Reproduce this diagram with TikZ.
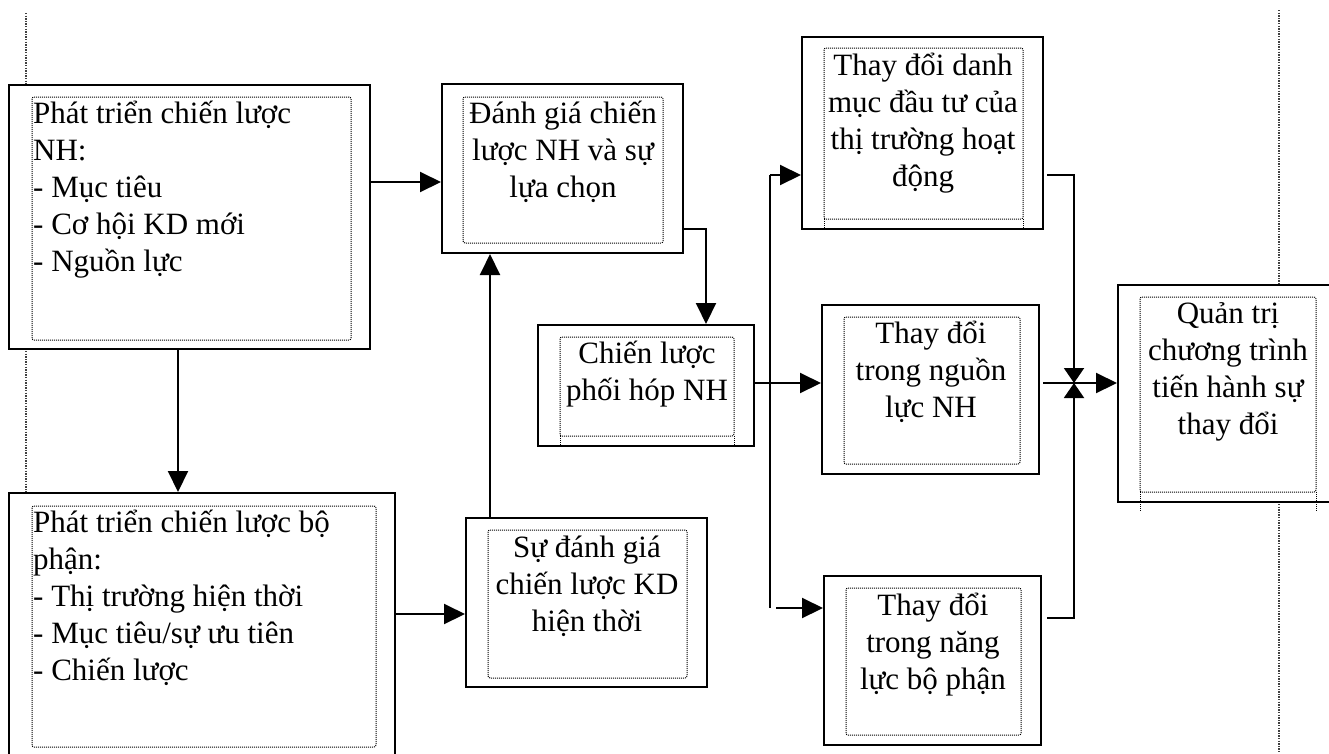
\documentclass[tikz,border=0pt]{standalone}
\usepackage{fontspec}
\setmainfont{Liberation Serif}
\usetikzlibrary{arrows.meta}
\newcommand\bxtxtL[2]{\parbox[t]{#1}{\raggedright #2}}
\newcommand\bxtxtC[2]{\parbox[t]{#1}{\centering #2}}
\tikzset{
 x=1pt,y=-1pt,
 obox/.style={draw, line width=2pt, fill=white, inner sep=0pt, rectangle},
 dotbox/.style={line width=1pt, dash pattern=on 1pt off 1pt, rounded corners=2pt},
 margin/.style={line width=1.3pt, dash pattern=on 1.3pt off 1.3pt, black!75},
 conn/.style={line width=2pt},
 arr/.style={conn, -{Triangle[length=21pt,width=20pt]}},
 jarr/.style={conn, -{Triangle[length=15pt,width=20pt]}},
 txt/.style={inner sep=0pt, font=\fontsize{31}{37}\selectfont},
}
\begin{document}
\begin{tikzpicture}
\useasboundingbox (0,0) rectangle (1329,753);
\clip (0,0) rectangle (1329,753);
\fill[white] (0,0) rectangle (1329,753);
% margin lines
\coordinate (mL1) at (26,13); \coordinate (mL2) at (26,753);
\coordinate (mR1) at (1279,10); \coordinate (mR2) at (1279,753);
\draw[margin] (mL1) -- (mL2);
\draw[margin] (mR1) -- (mR2);
% outer boxes
\node[obox, minimum width=361pt, minimum height=264pt] (A) at (189.5,217) {};
\node[obox, minimum width=386pt, minimum height=282pt] (B) at (202,634) {};
\node[obox, minimum width=241pt, minimum height=169pt] (C) at (562.5,168.5) {};
\node[obox, minimum width=216pt, minimum height=121pt] (D) at (646,385.5) {};
\node[obox, minimum width=241pt, minimum height=169pt] (E) at (586.5,602.5) {};
\node[obox, minimum width=241pt, minimum height=192pt] (F) at (922.5,133) {};
\node[obox, minimum width=217pt, minimum height=169pt] (G) at (930.5,389.5) {};
\node[obox, minimum width=217pt, minimum height=169pt] (H) at (932.5,660.5) {};
\node[obox, minimum width=227pt, minimum height=217pt] (I) at (1231.5,393.5) {};
% inner dotted frames
\draw[dotbox] (32,97) rectangle (351,340);
\draw[dotbox] (32,506) rectangle (376,747);
\draw[dotbox] (463,97) rectangle (663,243);
\draw[dotbox] (560,337) rectangle (734,436);
\draw[dotbox] (560,436) -- (560,446) (734,436) -- (734,446);
\draw[dotbox] (488,530) rectangle (687,678);
\draw[dotbox] (824,48) rectangle (1023,219);
\draw[dotbox] (824,219) -- (824,229) (1023,219) -- (1023,229);
\draw[dotbox] (844,317) rectangle (1020,464);
\draw[dotbox] (846,588) rectangle (1021,735);
\draw[dotbox] (1140,297) rectangle (1316,492);
\draw[dotbox] (1140,492) -- (1140,512) (1316,492) -- (1316,512);
% texts
\node[txt, anchor=base west] (tA) at (33,123) {\bxtxtL{330pt}{Phát triển chiến lược\\NH:\\- Mục tiêu\\- Cơ hội KD mới\\- Nguồn lực}};
\node[txt, anchor=base west] (tB) at (33,532) {\bxtxtL{350pt}{Phát triển chiến lược bộ\\phận:\\- Thị trường hiện thời\\- Mục tiêu/sự ưu tiên\\- Chiến lược}};
\node[txt, anchor=base] (tC) at (563,123) {\bxtxtC{230pt}{Đánh giá chiến\\lược NH và sự\\lựa chọn}};
\node[txt, anchor=base] (tD) at (647,363) {\bxtxtC{200pt}{Chiến lược\\phối hóp NH}};
\node[txt, anchor=base] (tE) at (587,557) {\bxtxtC{230pt}{Sự đánh giá\\chiến lược KD\\hiện thời}};
\node[txt, anchor=base] (tF) at (923,75) {\bxtxtC{230pt}{Thay đổi danh\\mục đầu tư của\\thị trường hoạt\\động}};
\node[txt, anchor=base] (tG) at (931,343) {\bxtxtC{200pt}{Thay đổi\\trong nguồn\\lực NH}};
\node[txt, anchor=base] (tH) at (933,615) {\bxtxtC{200pt}{Thay đổi\\trong năng\\lực bộ phận}};
\node[txt, anchor=base] (tI) at (1228,323) {\bxtxtC{200pt}{Quản trị\\chương trình\\tiến hành sự\\thay đổi}};
% connectors
\draw[arr] (A.east |- 0,182) -- (C.west |- 0,182);
\draw[arr] (A.south -| 178,0) -- (B.north -| 178,0);
\draw[arr] (B.east |- 0,614) -- (E.west |- 0,614);
\draw[arr] (E.north -| 490,0) -- (C.south -| 490,0);
\draw[arr] (C.east |- 0,229) -| (D.north -| 706,0);
\draw[arr] (D.east |- 0,383) -- (G.west |- 0,383);
\coordinate (bT) at (770,175);
\coordinate (bB) at (770,608);
\coordinate (bH) at (776,608);
\draw[conn] (bT) -- (bB);
\draw[arr] (bT) -- (F.west |- bT);
\draw[arr] (bH) -- (H.west |- bH);
\coordinate (jn) at (1074,383);
\draw[jarr] ([xshift=3pt]F.east |- 0,175) -| (jn);
\draw[jarr] ([xshift=5pt]H.east |- 0,618) -| (jn);
\draw[arr] ([xshift=3pt]G.east |- jn) -- (I.west |- jn);
\end{tikzpicture}
\end{document}
